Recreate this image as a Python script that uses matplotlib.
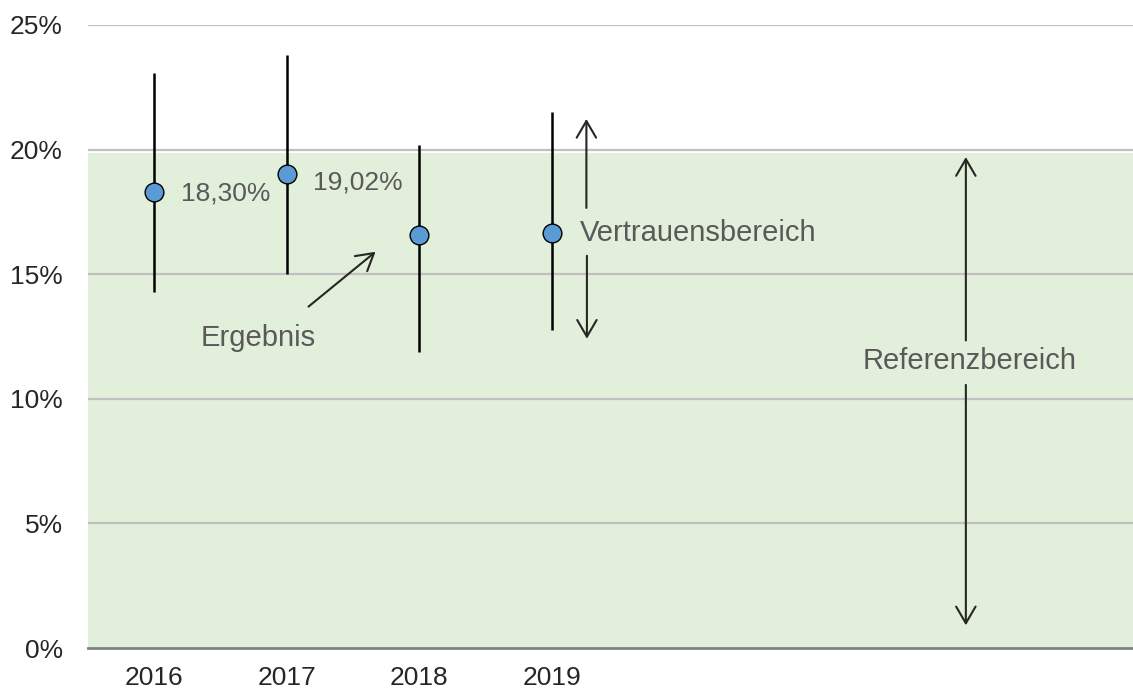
import numpy as np
import matplotlib.pyplot as plt
from matplotlib.ticker import FuncFormatter

plt.rcParams['font.family'] = ['Liberation Sans', 'DejaVu Sans']

years = ['2016', '2017', '2018', '2019']
result = [18.30, 19.02, 16.57, 16.67]
ci_low = [14.30, 15.01, 11.86, 12.77]
ci_high = [23.09, 23.80, 20.19, 21.50]
value_labels = ['18,30%', '19,02%']
ref_low = 0.0
ref_high = 19.85

fig = plt.figure(figsize=(11.33, 6.91), dpi=100)
ax = fig.add_axes([88 / 1133, 43 / 691, 1045 / 1133, 623 / 691])

x = np.arange(len(years))
ax.set_xlim(-0.5, 7.39)
ax.set_ylim(0, 25)

# reference range as shaded band
ax.axhspan(ref_low, ref_high, color='#E2EFDA', zorder=0, lw=0)

for y in [5, 10, 15, 20, 25]:
    ax.axhline(y, color='#C0C0C0', lw=1.6, zorder=1)

ax.vlines(x, ci_low, ci_high, color='black', lw=1.8, zorder=3)
ax.plot(x, result, 'o', ms=13.5, mfc='#5B9BD5', mec='black', mew=1.0, zorder=4)

txt = '#595959'
offsets = [(19, -1), (19, -6)]
for i, lab in enumerate(value_labels):
    ax.annotate(lab, (x[i], result[i]), xytext=offsets[i], textcoords='offset points',
                ha='left', va='center', fontsize=19, color=txt)

arr = dict(arrowstyle='->,head_length=1.2,head_width=0.7', color='#262626', lw=1.5,
           shrinkA=0, shrinkB=0)

ax.text(0.783, 12.45, 'Ergebnis', ha='center', va='center', fontsize=21, color=txt)
ax.annotate('', xy=(1.671, 15.90), xytext=(1.165, 13.70), arrowprops=arr)

ax.text(3.21, 16.66, 'Vertrauensbereich', ha='left', va='center', fontsize=21, color=txt)
ax.annotate('', xy=(3.263, 21.23), xytext=(3.263, 17.66), arrowprops=arr)
ax.annotate('', xy=(3.267, 12.41), xytext=(3.267, 15.74), arrowprops=arr)

ax.text(6.157, 11.53, 'Referenzbereich', ha='center', va='center', fontsize=21, color=txt)
ax.annotate('', xy=(6.128, 19.70), xytext=(6.128, 12.34), arrowprops=arr)
ax.annotate('', xy=(6.128, 0.91), xytext=(6.128, 10.56), arrowprops=arr)

ax.set_xticks(x)
ax.set_xticklabels(years)
ax.set_yticks([0, 5, 10, 15, 20, 25])
ax.yaxis.set_major_formatter(FuncFormatter(lambda v, p: f'{int(v)}%'))
ax.tick_params(axis='both', length=0, labelsize=19, colors='#262626')
ax.tick_params(axis='y', pad=18)
ax.tick_params(axis='x', pad=13)

for s in ['top', 'right', 'left']:
    ax.spines[s].set_visible(False)
ax.spines['bottom'].set_color('#808080')
ax.spines['bottom'].set_linewidth(2)
ax.spines['bottom'].set_zorder(5)

fig.savefig('out.png', dpi=100)
